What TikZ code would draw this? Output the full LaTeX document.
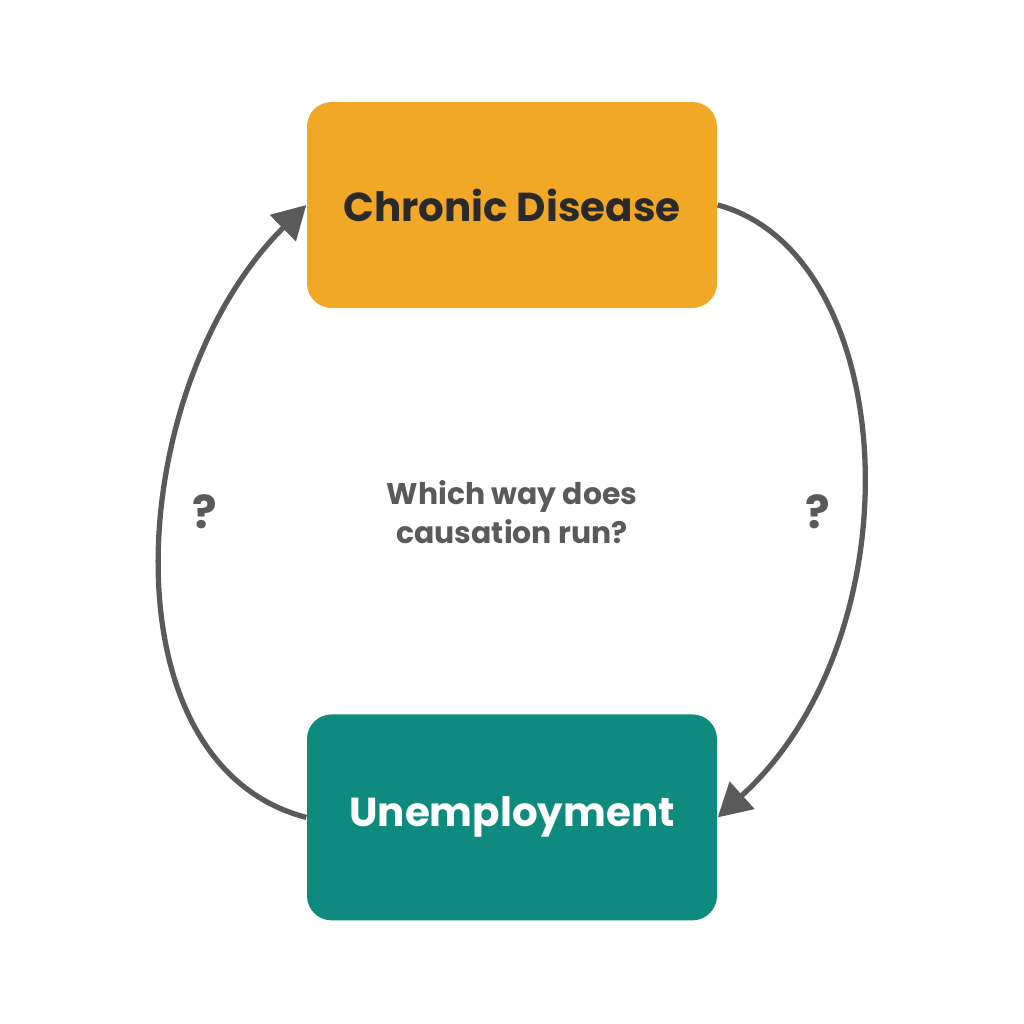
\documentclass[tikz,border=0pt]{standalone}
\usepackage{fontspec}
\setmainfont{Poppins}
\usepackage{tikz}
\usetikzlibrary{arrows.meta,positioning}
\usepackage{xcolor}
\definecolor{disease}{HTML}{F0A826}
\definecolor{jobless}{HTML}{0E8A7E}
\definecolor{inkgray}{HTML}{5A5A5A}
\definecolor{darktext}{HTML}{2A2A2A}

\begin{document}
\begin{tikzpicture}[
  box/.style={rounded corners=7pt, minimum width=4.1cm, minimum height=2.06cm,
              align=center, font=\fontsize{11.5}{14}\selectfont\bfseries},
  sick/.style={box, fill=disease, text=darktext},
  nojob/.style={box, fill=jobless, text=white},
  qmark/.style={text=inkgray, font=\fontsize{13}{15}\selectfont\bfseries},
  arrow/.style={-{Triangle[length=3.3mm, width=3.6mm]}, line width=1.5pt, inkgray}]
  \useasboundingbox (0,0) rectangle (10.24,10.24);
  \node[sick] (chronic) at (5.12,8.19) {Chronic Disease};
  \node[nojob, below=4.05cm of chronic] (unemp) {Unemployment};
  \node[text=inkgray, align=center, font=\fontsize{8.5}{11}\selectfont\bfseries]
    (ask) at (5.12,5.12) {Which way does\\causation run?};
  \node[qmark] (qleft) at (2.05,5.12) {?};
  \node[qmark] (qright) at (8.18,5.12) {?};
  \draw[arrow] (chronic.east) .. controls (9.0,7.7) and (9.2,3.9) .. (unemp.east);
  \draw[arrow] (unemp.west) .. controls (1.0,2.6) and (1.25,6.4) .. (chronic.west);
\end{tikzpicture}
\end{document}
